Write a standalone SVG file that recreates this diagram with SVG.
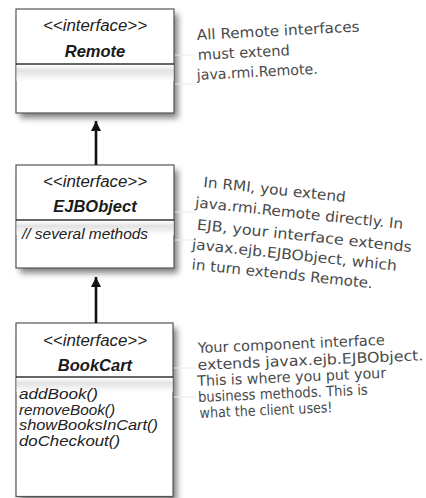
<svg xmlns="http://www.w3.org/2000/svg" width="426" height="498" viewBox="0 0 426 498">
<defs>
<filter id="shadow" x="-20%" y="-20%" width="140%" height="140%">
<feGaussianBlur stdDeviation="3"/>
</filter>
<linearGradient id="band" x1="0" y1="0" x2="0" y2="1">
<stop offset="0" stop-color="#ffffff"/>
<stop offset="0.35" stop-color="#e2e2e2"/>
<stop offset="1" stop-color="#ffffff"/>
</linearGradient>
<marker id="tri" markerWidth="16" markerHeight="10" refX="10" refY="5" orient="auto" markerUnits="userSpaceOnUse">
<path d="M0,0 L10,5 L0,10 Z" fill="#111"/>
</marker>
</defs>
<style>
.shadow{fill:#555;opacity:0.75;filter:url(#shadow)}
.box{fill:#fff;stroke:#555;stroke-width:1.2}
.div{stroke:#333;stroke-width:1.3}
.faint{stroke:#ececec;stroke-width:1}
.st{font-family:"Liberation Sans",Arial,sans-serif;font-style:italic;font-size:16px;fill:#222;text-anchor:middle}
.nm{font-family:"Liberation Sans",Arial,sans-serif;font-style:italic;font-weight:bold;font-size:16.5px;fill:#1a1a1a;text-anchor:middle}
.mt{font-family:"Liberation Sans",Arial,sans-serif;font-style:italic;font-size:15px;fill:#222}
.hand{font-family:"DejaVu Sans Condensed","DejaVu Sans",sans-serif;font-size:14.5px;fill:#4a4a4a}
.conn{stroke:#111;stroke-width:2.6;fill:none}
</style>

<g id="remote">
<rect class="shadow" x="20" y="14" width="158" height="104"/>
<rect class="box" x="16" y="9" width="158" height="104"/>
<rect x="16.6" y="65" width="157" height="16" fill="url(#band)"/>
<line class="div" x1="16" y1="64" x2="174" y2="64"/>
<line class="faint" x1="175" y1="55" x2="196" y2="55"/>
<line class="faint" x1="175" y1="84" x2="196" y2="84"/>
<text class="st" x="95" y="31" textLength="104" lengthAdjust="spacingAndGlyphs">&lt;&lt;interface&gt;&gt;</text>
<text class="nm" x="95" y="57">Remote</text>
</g>

<g id="ejbobject">
<rect class="shadow" x="20" y="170" width="158" height="103"/>
<rect class="box" x="16" y="165" width="158" height="103"/>
<rect x="16.6" y="221" width="157" height="14" fill="url(#band)"/>
<line class="div" x1="16" y1="220" x2="174" y2="220"/>
<line class="faint" x1="175" y1="212" x2="196" y2="212"/>
<line class="faint" x1="175" y1="240" x2="196" y2="240"/>
<text class="st" x="95" y="187" textLength="104" lengthAdjust="spacingAndGlyphs">&lt;&lt;interface&gt;&gt;</text>
<text class="nm" x="95" y="212">EJBObject</text>
<text class="mt" x="22" y="239" textLength="126" lengthAdjust="spacingAndGlyphs">// several methods</text>
</g>

<g id="bookcart">
<rect class="shadow" x="20" y="328" width="157" height="174"/>
<rect class="box" x="16" y="323" width="157" height="173.5"/>
<rect x="16.6" y="378" width="156" height="14" fill="url(#band)"/>
<line class="div" x1="16" y1="377" x2="173" y2="377"/>
<line class="faint" x1="174" y1="368" x2="196" y2="368"/>
<line class="faint" x1="174" y1="397" x2="196" y2="397"/>
<text class="st" x="95" y="346" textLength="104" lengthAdjust="spacingAndGlyphs">&lt;&lt;interface&gt;&gt;</text>
<text class="nm" x="95" y="371">BookCart</text>
<text class="mt"><tspan x="19" y="399" textLength="79" lengthAdjust="spacingAndGlyphs">addBook()</tspan><tspan x="19" y="414.5" textLength="96" lengthAdjust="spacingAndGlyphs">removeBook()</tspan><tspan x="19" y="430" textLength="139" lengthAdjust="spacingAndGlyphs">showBooksInCart()</tspan><tspan x="19" y="445.5" textLength="101" lengthAdjust="spacingAndGlyphs">doCheckout()</tspan></text>
</g>

<g id="connectors">
<line class="conn" x1="96" y1="165" x2="96" y2="121" marker-end="url(#tri)"/>
<line class="conn" x1="96" y1="323" x2="96" y2="277" marker-end="url(#tri)"/>
</g>

<g id="note1" transform="rotate(-3 197 40)">
<text class="hand" x="197" y="40" textLength="163" lengthAdjust="spacingAndGlyphs">All Remote interfaces</text>
<text class="hand" x="197" y="60" textLength="92" lengthAdjust="spacingAndGlyphs">must extend</text>
<text class="hand" x="195" y="80" textLength="121" lengthAdjust="spacingAndGlyphs">java.rmi.Remote.</text>
</g>

<g id="note2" transform="rotate(6 203 187)">
<text class="hand" x="203" y="187" textLength="143" lengthAdjust="spacingAndGlyphs">In RMI, you extend</text>
<text class="hand" x="197" y="208" textLength="209" lengthAdjust="spacingAndGlyphs">java.rmi.Remote directly. In</text>
<text class="hand" x="201" y="230" textLength="216" lengthAdjust="spacingAndGlyphs">EJB, your interface extends</text>
<text class="hand" x="198" y="250" textLength="206" lengthAdjust="spacingAndGlyphs">javax.ejb.EJBObject, which</text>
<text class="hand" x="200" y="270" textLength="182" lengthAdjust="spacingAndGlyphs">in turn extends Remote.</text>
</g>

<g id="note3" transform="rotate(-2.5 198 353)">
<text class="hand" x="198" y="353" textLength="187" lengthAdjust="spacingAndGlyphs">Your component interface</text>
<text class="hand" x="197" y="370" textLength="226" lengthAdjust="spacingAndGlyphs">extends javax.ejb.EJBObject.</text>
<text class="hand" x="196" y="386" textLength="189" lengthAdjust="spacingAndGlyphs">This is where you put your</text>
<text class="hand" x="196" y="402" textLength="170" lengthAdjust="spacingAndGlyphs">business methods. This is</text>
<text class="hand" x="197" y="418" textLength="133" lengthAdjust="spacingAndGlyphs">what the client uses!</text>
</g>
</svg>
